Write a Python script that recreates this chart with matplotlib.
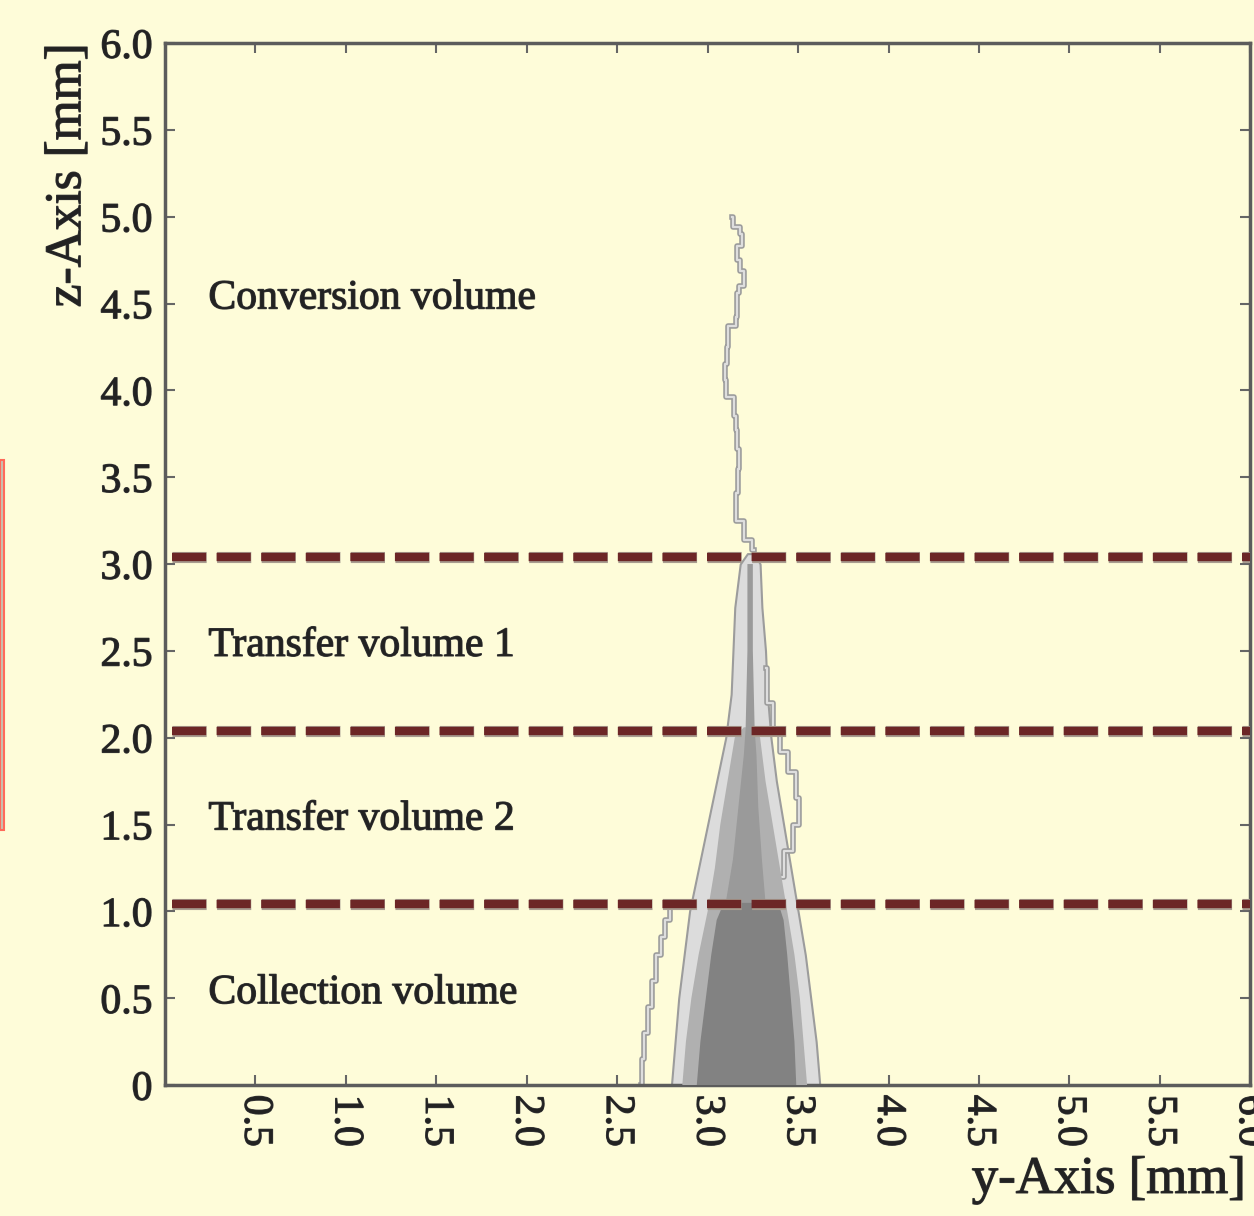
import matplotlib.pyplot as plt
import matplotlib.patheffects as pe
from matplotlib.patches import Rectangle

# boundaries between the drift volumes (z, mm)
boundaries = [3.04, 2.04, 1.04]

# region labels
region_names = ["Conversion volume", "Transfer volume 1", "Transfer volume 2", "Collection volume"]
region_z = [4.53, 2.53, 1.53, 0.53]

# electron cloud: outer / middle / inner edges (y, mm) per z level
outer_z = [0.0, 0.25, 0.5, 0.75, 1.0, 1.25, 1.5, 1.75, 2.0, 2.25, 2.5, 2.75, 3.0, 3.06]
outer_left = [2.80, 2.82, 2.84, 2.87, 2.90, 2.95, 3.00, 3.05, 3.10, 3.13, 3.14, 3.15, 3.18, 3.22]
outer_right = [3.62, 3.60, 3.57, 3.54, 3.50, 3.46, 3.42, 3.38, 3.35, 3.33, 3.32, 3.30, 3.29, 3.26]

mid_z = [0.0, 0.25, 0.5, 0.75, 1.0, 1.25, 1.5, 1.75, 2.0, 2.06]
mid_left = [2.86, 2.88, 2.91, 2.95, 3.00, 3.04, 3.07, 3.11, 3.15, 3.20]
mid_right = [3.55, 3.53, 3.51, 3.48, 3.44, 3.40, 3.36, 3.32, 3.29, 3.26]

core_z = [0.0, 0.25, 0.5, 0.75, 0.95, 1.05]
core_left = [2.94, 2.96, 2.99, 3.02, 3.05, 3.09]
core_right = [3.49, 3.48, 3.46, 3.44, 3.42, 3.39]

streak_z = [1.05, 1.3, 1.6, 1.9, 2.05, 2.5, 3.0]
streak_left = [3.10, 3.14, 3.17, 3.20, 3.21, 3.22, 3.22]
streak_right = [3.32, 3.30, 3.28, 3.27, 3.26, 3.25, 3.25]

# stray tracks (y, z)
left_trail_y = [2.63, 2.64, 2.66, 2.68, 2.70, 2.73, 2.75, 2.78, 2.80]
left_trail_z = [0.0, 0.15, 0.3, 0.45, 0.6, 0.75, 0.85, 0.95, 1.05]
right_trail_y = [3.36, 3.40, 3.44, 3.50, 3.51, 3.47, 3.42, 3.38, 3.34, 3.32]
right_trail_z = [1.05, 1.2, 1.35, 1.5, 1.65, 1.8, 1.92, 2.05, 2.2, 2.4]

# single track in the conversion volume
track_y = [3.255, 3.24, 3.16, 3.155, 3.16, 3.18, 3.17, 3.155, 3.16, 3.135, 3.07, 3.12,
           3.09, 3.135, 3.18, 3.145, 3.20, 3.20, 3.155, 3.17, 3.21, 3.145, 3.135]
track_z = [3.08, 3.14, 3.25, 3.37, 3.41, 3.55, 3.66, 3.77, 3.85, 3.96, 4.06, 4.15,
           4.25, 4.37, 4.42, 4.56, 4.60, 4.69, 4.75, 4.83, 4.90, 4.94, 5.0]

x_ticks = [0.5, 1.0, 1.5, 2.0, 2.5, 3.0, 3.5, 4.0, 4.5, 5.0, 5.5, 6.0]
y_ticks = [0, 0.5, 1.0, 1.5, 2.0, 2.5, 3.0, 3.5, 4.0, 4.5, 5.0, 5.5, 6.0]

bg = "#fefcd9"
txt = "#222222"
bold_fx = [pe.Stroke(linewidth=0.9, foreground="#3a3a3a"), pe.Normal()]
plt.rcParams["font.family"] = ["Liberation Serif", "DejaVu Serif"]

fig = plt.figure(figsize=(12.54, 12.16), dpi=100, facecolor=bg)
ax = fig.add_axes([0.1316, 0.1077, 0.8654, 0.8569])
ax.set_facecolor(bg)

edge = "#9c9c9c"
ax.fill_betweenx(outer_z, outer_left, outer_right, color="#dcdcdc", ec=edge, lw=1.5, zorder=2)
ax.fill_betweenx(mid_z, mid_left, mid_right, color="#b0b0b0", ec="none", zorder=3)
ax.fill_betweenx(streak_z, streak_left, streak_right, color="#9a9a9a", ec="none", zorder=3)
ax.fill_betweenx(core_z, core_left, core_right, color="#828282", ec="none", zorder=4)

halo = [pe.Stroke(linewidth=4, foreground=edge), pe.Normal()]
for ys, zs in [(left_trail_y, left_trail_z), (right_trail_y, right_trail_z), (track_y, track_z)]:
    ax.plot(ys, zs, color="#dedede", lw=1.6, drawstyle="steps-mid", zorder=2,
            path_effects=halo)

for z in boundaries:
    ax.plot([0.04, 6.0], [z, z], color="#6c2626", lw=6, dashes=(4.1, 1.25), zorder=5,
            solid_capstyle="butt",
            path_effects=[pe.Stroke(linewidth=8, foreground="#a89c90"), pe.Normal()])

for name, z in zip(region_names, region_z):
    ax.text(0.24, z, name, fontsize=30, color=txt, va="center", ha="left", zorder=6,
            path_effects=bold_fx)

ax.set_xlim(0, 6)
ax.set_ylim(0, 6)
ax.set_xticks(x_ticks)
ax.set_xticklabels([f"{v:.1f}" for v in x_ticks], rotation=270)
ax.set_yticks(y_ticks)
ax.set_yticklabels(["0"] + [f"{v:.1f}" for v in y_ticks[1:]])
ax.tick_params(axis="both", direction="in", length=7, width=1.5, colors="#666666",
               labelcolor=txt, labelsize=30, top=True, right=True)
ax.tick_params(axis="x", pad=7)
ax.tick_params(axis="y", pad=9)
for lab in ax.get_xticklabels() + ax.get_yticklabels():
    lab.set_path_effects(bold_fx)
for s in ax.spines.values():
    s.set_color("#5c5c5c")
    s.set_linewidth(2.5)

ax.set_xlabel("y-Axis [mm]", fontsize=38, color=txt, loc="right", path_effects=bold_fx)
ax.xaxis.set_label_coords(0.996, -0.068)
ax.set_ylabel("z-Axis [mm]", fontsize=37, color=txt, loc="top", path_effects=bold_fx)
ax.yaxis.set_label_coords(-0.068, 1.0)

# slide decoration at left edge
fig.patches.append(Rectangle((0, (1216 - 830) / 1216), 4 / 1254, 370 / 1216,
                             transform=fig.transFigure, fc="#c8c0b0", ec="#ff6a5a", lw=1.5))

fig.savefig("out.png", dpi=100, facecolor=bg)
